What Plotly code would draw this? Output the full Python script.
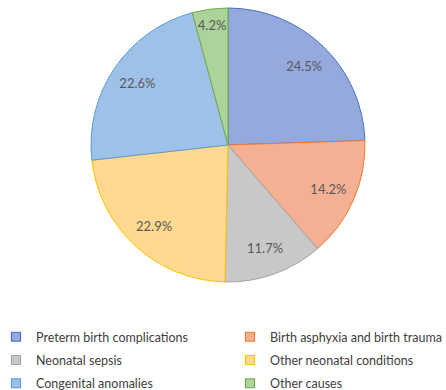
import plotly.graph_objects as go

categories = ["Preterm birth complications", "Birth asphyxia and birth trauma",
              "Neonatal sepsis", "Other neonatal conditions",
              "Congenital anomalies", "Other causes"]
values = [24.5, 14.2, 11.7, 22.9, 22.6, 4.2]
fill_colors = ["#95A9DD", "#F5B094", "#C8C8C8", "#FED98F", "#9EC1E8", "#ACD39A"]
line_colors = ["#4472C4", "#ED7D31", "#A5A5A5", "#FFC000", "#5B9BD5", "#70AD47"]
# legend layout: which of the two legend columns each category goes in (row-major)
legend_ids = ["legend", "legend2", "legend", "legend2", "legend", "legend2"]

W, H = 446, 390
cx, cy, r = 228, 145, 137
dom = dict(x=[(cx - r) / W, (cx + r) / W], y=[1 - (cy + r) / H, 1 - (cy - r) / H])

fig = go.Figure()
# the pie itself
fig.add_trace(go.Pie(
    labels=categories, values=values, sort=False, direction="clockwise", rotation=0,
    marker=dict(colors=fill_colors, line=dict(color=line_colors, width=1)),
    textinfo="none", hoverinfo="label+value", showlegend=False, domain=dom,
))
# transparent ring carrying the data labels further out, like Excel places them
fig.add_trace(go.Pie(
    labels=categories, values=values, sort=False, direction="clockwise", rotation=0,
    hole=0.6,
    marker=dict(colors=["rgba(0,0,0,0)"] * len(values), line=dict(width=0)),
    texttemplate="%{value:.1f}%", textposition="inside",
    insidetextorientation="horizontal",
    textfont=dict(family="Lato", size=13, color="#595959"),
    hoverinfo="skip", showlegend=False, domain=dom,
))
# legend entries
for cat, fc, lc, lg in zip(categories, fill_colors, line_colors, legend_ids):
    fig.add_trace(go.Scatter(
        x=[None], y=[None], mode="markers", name=cat, legend=lg, legendgroup=cat,
        marker=dict(symbol="square", size=9, color=fc, line=dict(color=lc, width=1.2)),
        showlegend=True,
    ))

leg_common = dict(orientation="v", xanchor="left", y=0.174, yanchor="top",
                  tracegroupgap=4, itemsizing="trace", bgcolor="rgba(0,0,0,0)",
                  font=dict(family="Lato", size=12.5, color="#404040"))

fig.update_layout(
    width=W, height=H,
    margin=dict(l=0, r=0, t=0, b=0, autoexpand=False),
    paper_bgcolor="white", plot_bgcolor="white",
    font=dict(family="Lato", size=12.5, color="#404040"),
    xaxis=dict(visible=False), yaxis=dict(visible=False),
    uniformtext=dict(minsize=13, mode="show"),
    legend=dict(x=-4 / W, **leg_common),
    legend2=dict(x=230 / W, **leg_common),
)

fig.write_html("out.html")
